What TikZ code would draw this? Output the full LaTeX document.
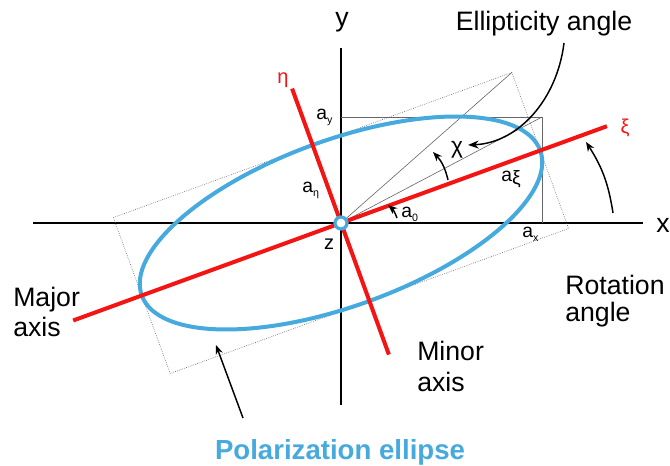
\documentclass[tikz,border=0pt]{standalone}
\usepackage{fontspec}
\setmainfont{Liberation Sans}
\usetikzlibrary{arrows.meta}
\definecolor{pblue}{RGB}{70,170,222}
\definecolor{pred}{RGB}{245,20,20}
\newcommand\mysubs[1]{\raisebox{-2.6pt}{\fontsize{8pt}{9pt}\selectfont #1}}
\begin{document}
\begin{tikzpicture}[x=0.75pt,y=-0.75pt,
  big/.style={font=\fontsize{20pt}{24pt}\selectfont, inner sep=0pt},
  smalllab/.style={font=\fontsize{14.5pt}{16pt}\selectfont, inner sep=0pt},
  greeklab/.style={font=\fontsize{15pt}{17pt}\selectfont, inner sep=0pt},
  axisline/.style={line width=1.5pt, black},
  thinline/.style={line width=0.45pt, black!60},
  dotline/.style={line width=0.45pt, black!65, densely dotted},
  redaxis/.style={line width=3pt, pred},
  ellline/.style={line width=3pt, pblue},
  arr/.style={-{Stealth[length=7pt,width=5.5pt]}, line width=1.1pt, black}]
\fill[white] (0,0) rectangle (670,466);
\useasboundingbox (0,0) rectangle (670,466);

\coordinate (O) at (341,223);
% axes
\coordinate (xl) at (33,223);
\coordinate (xr) at (643,223);
\coordinate (yt) at (341,48);
\coordinate (yb) at (341,405);
\draw[axisline] (xl) -- (xr);
\draw[axisline] (yt) -- (yb);

% axis-aligned box and diagonals
\coordinate (ay) at (341,117);
\coordinate (corner) at (542,117);
\coordinate (ax) at (542,223);
\draw[thinline] (ay) -- (corner) -- (ax);
\draw[thinline] (O) -- (corner);

\begin{scope}[shift={(O)}, rotate=20]
  \coordinate (C1) at (212,-83);
  \coordinate (C2) at (-212,-83);
  \coordinate (C3) at (-212,83);
  \coordinate (C4) at (212,83);
  \coordinate (xiL) at (-285,0);
  \coordinate (xiR) at (283,0);
  \coordinate (etaT) at (0,-143);
  \coordinate (etaB) at (0,140);
  \draw[dotline] (C1) -- (C2) -- (C3) -- (C4) -- cycle;
  \draw[thinline] (0,0) -- (C1);
  \draw[ellline] (0,0) ellipse [x radius=159pt, y radius=62.25pt];
  \draw[redaxis] (xiL) -- (xiR);
  \draw[redaxis] (etaT) -- (etaB);
\end{scope}

\filldraw[fill=white, draw=pblue, line width=2.4pt] (O) circle [radius=4.5pt];

% labels
\node[big, anchor=base] (ell) at (544,31) {Ellipticity angle};
\node[big, anchor=base] (ylab) at (342,27) {y};
\node[big, anchor=base] (xlab) at (663,233) {x};
\node[big, anchor=base west] (rot1) at (565,295) {Rotation};
\node[big, anchor=base west] (rot2) at (565,321.7) {angle};
\node[big, anchor=base west] (maj1) at (13,306.7) {Major};
\node[big, anchor=base west] (maj2) at (13,336.7) {axis};
\node[big, anchor=base west] (min1) at (417,360) {Minor};
\node[big, anchor=base west] (min2) at (417,391.7) {axis};
\node[font=\fontsize{20.7pt}{24pt}\selectfont\bfseries, text=pblue, anchor=base, inner sep=0pt] (pol) at (340,459.5) {Polarization ellipse};

\node[greeklab, text=pred] (etalab) at (283,80) {η};
\node[greeklab, text=pred] (xilab) at (625,128) {ξ};
\node[font=\fontsize{17pt}{19pt}\selectfont, inner sep=0pt] (chilab) at (457,150) {χ};

\node[smalllab, anchor=base west] (aylab) at (316,120) {a\mysubs{y}};
\node[smalllab, anchor=base west] (aetalab) at (302,193) {a\mysubs{η}};
\node[smalllab, anchor=base west] (a0lab) at (401,218) {a\mysubs{0}};
\node[smalllab, anchor=base west] (axlab) at (522,238) {a\mysubs{x}};
\node[smalllab, anchor=base west] (axilab) at (501,182) {a\raisebox{-2pt}{ξ}};
\node[font=\fontsize{15pt}{17pt}\selectfont, inner sep=0pt, anchor=base] (zlab) at (329,250) {z};

% arrows
\coordinate (e1) at (564,43);
\coordinate (e2) at (468,145);
\draw[arr, -{Stealth[length=8pt,width=6pt]}] (e1) .. controls (557,100) and (518,143) .. (e2);
\coordinate (c1) at (448,180);
\coordinate (c2) at (433,152);
\draw[arr] (c1) to[bend right=15] (c2);
\coordinate (o1) at (397,218);
\coordinate (o2) at (388,205);
\draw[arr] (o1) to[bend right=15] (o2);
\coordinate (r1) at (613,213);
\coordinate (r2) at (586,142);
\draw[arr] (r1) to[bend right=12] (r2);
\coordinate (p1) at (243,418);
\coordinate (p2) at (216,345);
\draw[arr] (p1) -- (p2);
\end{tikzpicture}
\end{document}
